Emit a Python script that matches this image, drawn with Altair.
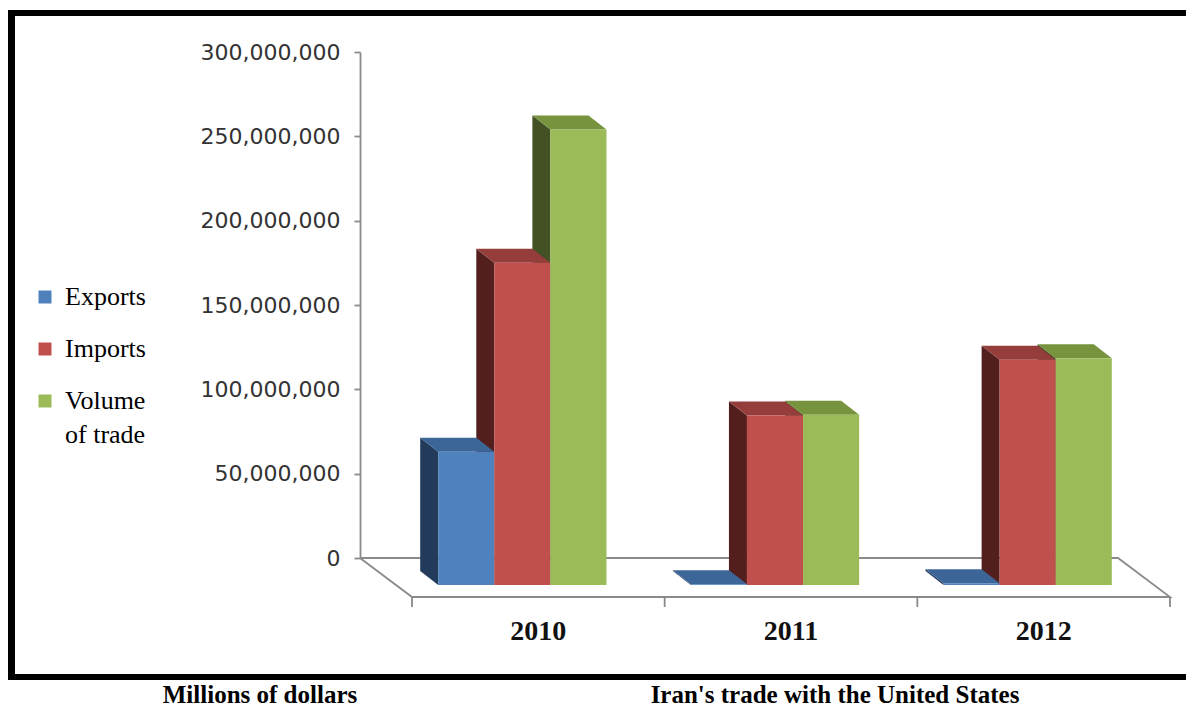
import altair as alt
import pandas as pd

# ---- data ----
years = ["2010", "2011", "2012"]
series = ["Exports", "Imports", "Volume of trade"]
exports = [79.0e6, 0.5e6, 1.0e6]
imports = [191.0e6, 100.5e6, 133.5e6]
volume_of_trade = [270.0e6, 101.0e6, 134.5e6]
y_tick_values = [0, 50e6, 100e6, 150e6, 200e6, 250e6, 300e6]
captions = ["Millions of dollars", "Iran's trade with the United States"]

# ---- styles ----
front_colors = ["#4F81BD", "#C0504D", "#9BBB59"]
side_colors = ["#223B5A", "#521F1E", "#435125"]
top_colors = ["#3B6697", "#953D3B", "#77933D"]
AXIS_GREY = "#8a8a8a"

W, H = 758, 506          # plot area (back wall)
Y_MAX = 300e6
N = len(years)
UX = N / W               # category units per pixel
UY = Y_MAX / H           # value units per pixel
BAR = 0.222              # bar width as a fraction of a category
GAP = (1 - len(series) * BAR) / 2
FRONT_DX, FRONT_DY = 36, 27   # pseudo-3D depth of the bar front face (px)
BACK_DX, BACK_DY = 18, 13     # depth of the bar back face (px)
FLOOR_DX, FLOOR_DY = 52, 39   # depth of the floor (px)

values = [exports, imports, volume_of_trade]
front_rows, side_rows, top_rows = [], [], []
for i, yr in enumerate(years):
    for j, s in enumerate(series):
        v = values[j][i]
        xl = i + GAP + j * BAR
        bar = f"{yr} {s}"
        front_rows.append(dict(year=yr, series=s, value=v,
                               x1=xl + FRONT_DX * UX, x2=xl + BAR + FRONT_DX * UX,
                               top=v - FRONT_DY * UY, bottom=-FRONT_DY * UY))
        for dx, dy in [(BACK_DX, BACK_DY), (FRONT_DX, FRONT_DY)]:
            side_rows.append(dict(bar=bar, fill=side_colors[j], x=xl + dx * UX,
                                  top=v - dy * UY, bottom=-dy * UY))
            top_rows.append(dict(bar=bar, fill=top_colors[j], y=v - dy * UY,
                                 x1=xl + dx * UX, x2=xl + BAR + dx * UX))

front_df = pd.DataFrame(front_rows)
side_df = pd.DataFrame(side_rows)
top_df = pd.DataFrame(top_rows)

floor_df = pd.DataFrame([
    dict(k=0, x=0, y=0),
    dict(k=1, x=N, y=0),
    dict(k=2, x=N + FLOOR_DX * UX, y=-FLOOR_DY * UY),
    dict(k=3, x=FLOOR_DX * UX, y=-FLOOR_DY * UY),
    dict(k=4, x=0, y=0),
])
tick_df = pd.DataFrame([dict(x=k + FLOOR_DX * UX, y=-FLOOR_DY * UY,
                             y2=-(FLOOR_DY + 10) * UY) for k in range(N + 1)])
label_df = pd.DataFrame([dict(year=yr, x=i + 0.5 + FLOOR_DX * UX,
                              y=-(FLOOR_DY + 35) * UY) for i, yr in enumerate(years)])

xs = alt.Scale(domain=[0, N], nice=False, zero=False)
ys = alt.Scale(domain=[0, Y_MAX], nice=False, zero=False)
y_axis = alt.Axis(
    values=y_tick_values, format=",d", title=None, grid=False,
    labelFont="DejaVu Sans", labelFontSize=22, labelColor="#333333",
    labelPadding=14, tickSize=6, tickColor=AXIS_GREY, tickWidth=1.8,
    domainColor=AXIS_GREY, domainWidth=1.8)

floor = alt.Chart(floor_df).mark_line(color=AXIS_GREY, strokeWidth=1.8).encode(
    x=alt.X("x:Q", scale=xs, axis=None),
    y=alt.Y("y:Q", scale=ys, axis=y_axis),
    order=alt.Order("k:Q"),
)
ticks = alt.Chart(tick_df).mark_rule(color=AXIS_GREY, strokeWidth=1.8).encode(
    x=alt.X("x:Q", scale=xs, axis=None),
    y=alt.Y("y:Q", scale=ys, axis=y_axis),
    y2="y2:Q",
)
side = alt.Chart(side_df).mark_area(orient="vertical", opacity=1).encode(
    x=alt.X("x:Q", scale=xs, axis=None),
    y=alt.Y("top:Q", scale=ys, axis=y_axis, stack=None),
    y2="bottom:Q",
    fill=alt.Fill("fill:N", scale=None),
    detail="bar:N",
)
top = alt.Chart(top_df).mark_area(orient="horizontal", opacity=1).encode(
    y=alt.Y("y:Q", scale=ys, axis=y_axis),
    x=alt.X("x1:Q", scale=xs, axis=None, stack=None),
    x2="x2:Q",
    fill=alt.Fill("fill:N", scale=None),
    detail="bar:N",
)
front = alt.Chart(front_df).mark_rect().encode(
    x=alt.X("x1:Q", scale=xs, axis=None),
    x2="x2:Q",
    y=alt.Y("top:Q", scale=ys, axis=y_axis),
    y2="bottom:Q",
    color=alt.Color("series:N", scale=alt.Scale(domain=series, range=front_colors),
                    legend=alt.Legend(
                        title=None, orient="none", legendX=-328, legendY=232,
                        direction="vertical", symbolType="square", symbolSize=169,
                        symbolStrokeWidth=0, symbolOpacity=1,
                        labelFont="Liberation Serif", labelFontSize=26,
                        labelColor="black", labelOffset=7, rowPadding=26,
                        labelLimit=0,
                        labelExpr="datum.label == 'Volume of trade' ? ['Volume', 'of trade'] : datum.label")),
)
year_labels = alt.Chart(label_df).mark_text(
    font="Liberation Serif", fontSize=28, fontWeight="bold", color="#111111",
    baseline="middle", align="center").encode(
    x=alt.X("x:Q", scale=xs, axis=None),
    y=alt.Y("y:Q", scale=ys, axis=y_axis),
    text="year:N",
)

# decorative black frame (filled thin rectangles, no stroke)
one = pd.DataFrame({"k": [0]})
frame_top = alt.Chart(one).mark_rect(color="black").encode(
    x=alt.value(-352), x2=alt.value(826), y=alt.value(-42), y2=alt.value(-36))
frame_left = alt.Chart(one).mark_rect(color="black").encode(
    x=alt.value(-352), x2=alt.value(-345), y=alt.value(-42), y2=alt.value(628))
frame_bottom = alt.Chart(one).mark_rect(color="black").encode(
    x=alt.value(-352), x2=alt.value(826), y=alt.value(622), y2=alt.value(628))

cap_df = pd.DataFrame({"text": captions})
cap1 = alt.Chart(cap_df).transform_filter(alt.datum.text == captions[0]).mark_text(
    font="Liberation Serif", fontSize=25, fontWeight="bold", color="black",
    align="center", baseline="alphabetic").encode(
    x=alt.value(-100), y=alt.value(651), text="text:N")
cap2 = alt.Chart(cap_df).transform_filter(alt.datum.text == captions[1]).mark_text(
    font="Liberation Serif", fontSize=25, fontWeight="bold", color="black",
    align="center", baseline="alphabetic").encode(
    x=alt.value(475), y=alt.value(651), text="text:N")

chart = alt.layer(
    floor, ticks, side, top, front, year_labels,
    frame_top, frame_left, frame_bottom, cap1, cap2,
).properties(
    width=W, height=H,
    padding={"left": 0, "top": 2, "right": 0, "bottom": 0},
).configure(
    view=alt.ViewConfig(stroke=None),
    style={"guide-label": {"lineHeight": 34}},
)

chart.save("out.html", embed_options={"renderer": "svg", "actions": False})
